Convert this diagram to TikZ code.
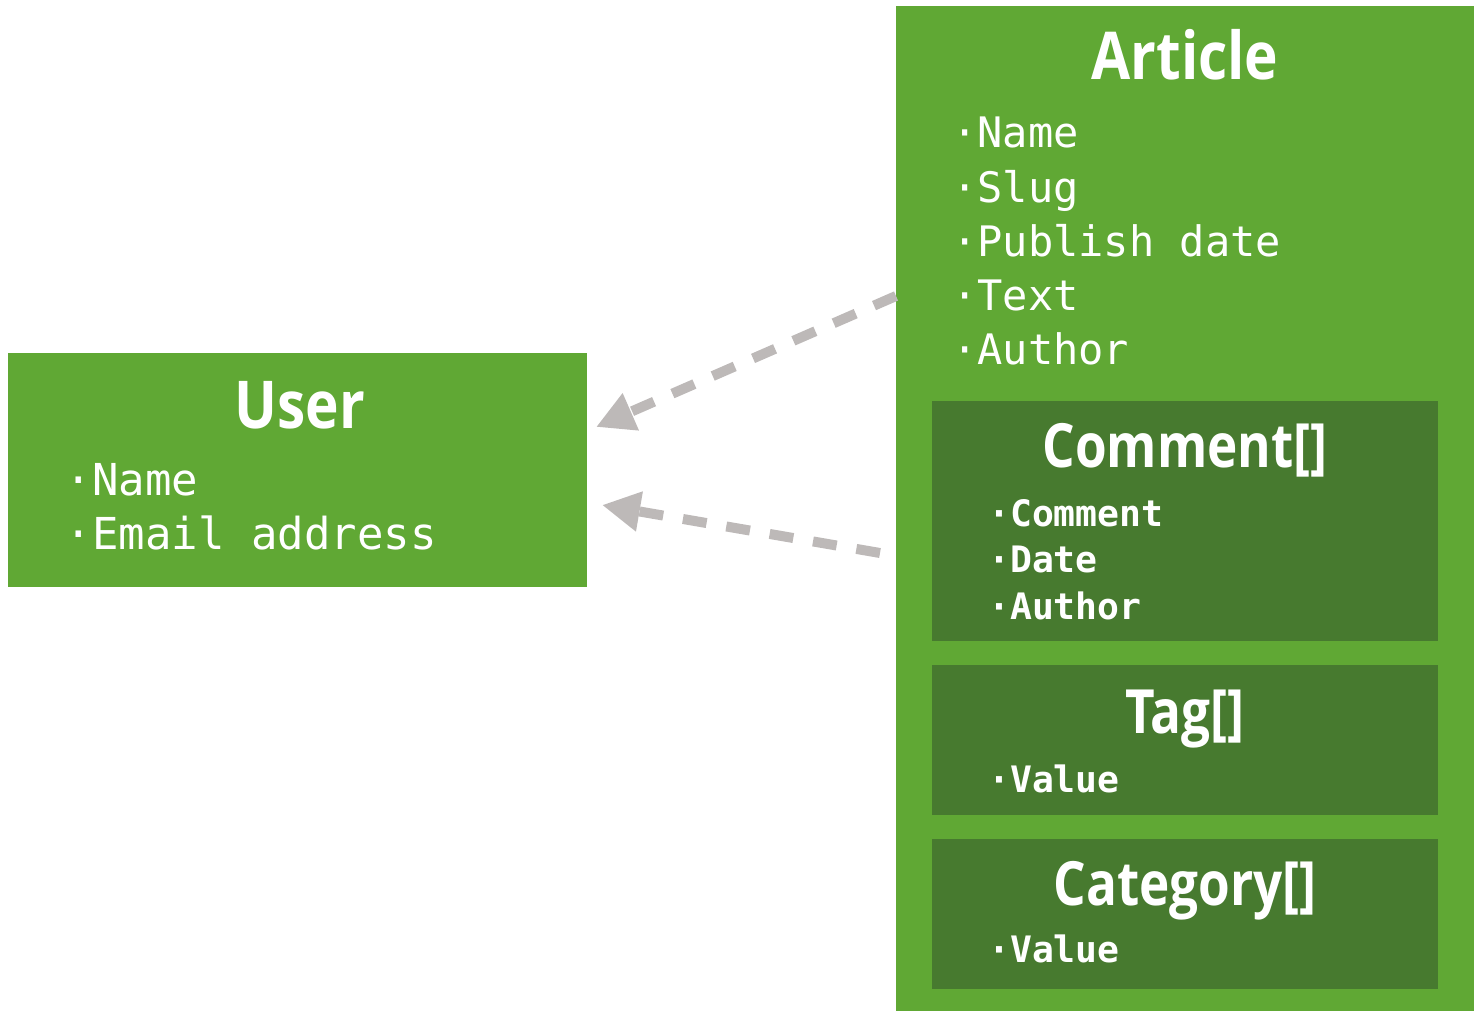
\documentclass[tikz,border=0pt]{standalone}
\usepackage{fontspec}
\setmainfont{Open Sans}
\newfontfamily\titlefont[FakeStretch=0.86]{Open Sans Bold}
\newfontfamily\ititlefont[FakeStretch=0.84]{Open Sans Bold}
\newfontfamily\itemfont{DejaVu Sans Mono}
\newfontfamily\itemfontb{DejaVu Sans Mono Bold}
\usetikzlibrary{arrows.meta}
\definecolor{lightgreen}{RGB}{96,168,52}
\definecolor{darkgreen}{RGB}{71,122,47}
\definecolor{arrowgray}{RGB}{189,185,184}
\tikzset{
  innerbox/.style={fill=darkgreen, draw=none, inner sep=0pt},
  titletext/.style={anchor=base, text=white, inner sep=0pt, font=\titlefont\fontsize{66}{66}\selectfont},
  ititle/.style={anchor=base, text=white, inner sep=0pt, font=\ititlefont\fontsize{61}{61}\selectfont},
  bigitem/.style={anchor=base west, text=white, inner sep=0pt, font=\itemfont\fontsize{44}{44}\selectfont},
  miditem/.style={anchor=base west, text=white, inner sep=0pt, font=\itemfont\fontsize{42}{42}\selectfont},
  smallitem/.style={anchor=base west, text=white, inner sep=0pt, font=\itemfontb\fontsize{36.4}{36.4}\selectfont},
  link/.style={draw=arrowgray, line width=10pt, dash pattern=on 24pt off 20pt, -{Triangle[length=38pt,width=38pt]}}
}
\begin{document}
\begin{tikzpicture}[x=1pt,y=-1pt]
\useasboundingbox (0,0) rectangle (1474,1011);
% User
\node[fill=lightgreen, inner sep=0pt, minimum width=579pt, minimum height=234pt] (user) at (297.5,470) {};
\node[titletext] (usertitle) at (300,428) {User};
\node[bigitem] (uname) at (65.5,495) {·Name};
\node[bigitem] (uemail) at (65.5,549) {·Email address};
% Article
\node[fill=lightgreen, inner sep=0pt, minimum width=578pt, minimum height=1005pt] (article) at (1185,508.5) {};
\node[titletext] (arttitle) at (1185,80) {Article};
\node[miditem] (aname) at (952,148) {·Name};
\node[miditem] (aslug) at (952,202) {·Slug};
\node[miditem] (apub) at (952,256) {·Publish date};
\node[miditem] (atext) at (952,310) {·Text};
\node[miditem] (aauth) at (952,364) {·Author};
% Comment
\node[innerbox, minimum width=506pt, minimum height=240pt] (comment) at (1185,521) {};
\node[ititle] (ctitle) at (1185,467) {Comment[]};
\node[smallitem] (ccom) at (988,526) {·Comment};
\node[smallitem] (cdate) at (988,572) {·Date};
\node[smallitem] (cauth) at (988,619) {·Author};
% Tag
\node[innerbox, minimum width=506pt, minimum height=150pt] (tag) at (1185,740) {};
\node[ititle] (ttitle) at (1185,733) {Tag[]};
\node[smallitem] (tval) at (988,792) {·Value};
% Category
\node[innerbox, minimum width=506pt, minimum height=150pt] (category) at (1185,914) {};
\node[ititle] (cattitle) at (1185,905) {Category[]};
\node[smallitem] (catval) at (988,962) {·Value};
% Connectors
\coordinate (a1s) at (896,296);
\coordinate (a1e) at (596,427);
\coordinate (a2s) at (880,553);
\coordinate (a2e) at (602,505);
\draw[link] (a1s) -- (a1e);
\draw[link] (a2s) -- (a2e);
\end{tikzpicture}
\end{document}
